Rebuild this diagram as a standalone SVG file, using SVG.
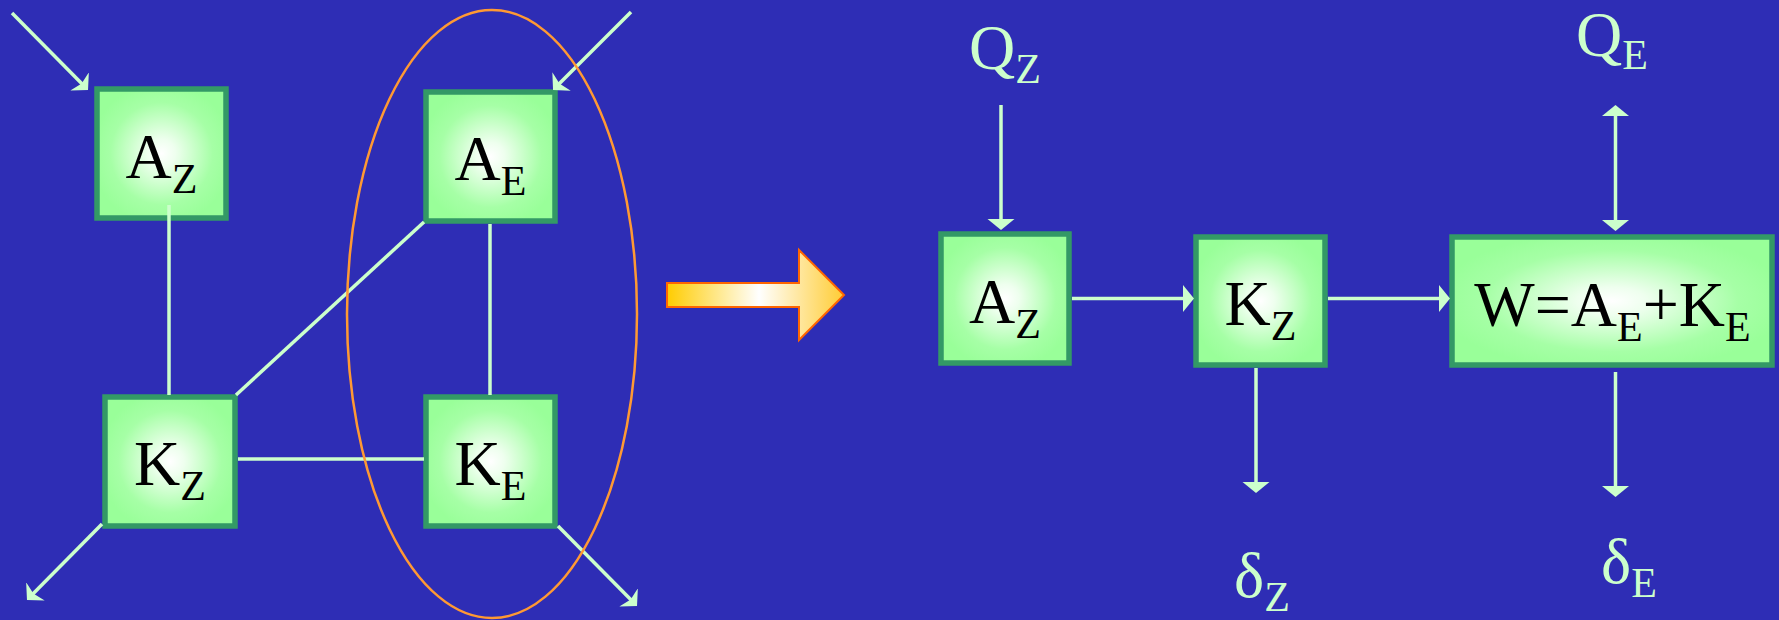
<svg xmlns="http://www.w3.org/2000/svg" width="1779" height="620" viewBox="0 0 1779 620">
<defs>
<style>
.box{stroke:#339966;stroke-width:5.5;fill:url(#boxg)}
.wbox{stroke:#339966;stroke-width:5.5;fill:url(#boxg)}
.lbl{font-family:"Liberation Serif","Times New Roman",serif;font-size:64px;fill:#000}
.ext{font-family:"Liberation Serif","Times New Roman",serif;font-size:64px;fill:#CCFFCC}
.sub{font-size:42px}
.ln{stroke:#CCFFCC;stroke-width:3.5;fill:none}
.st{marker-end:url(#stealth)}
.tri{marker-end:url(#tri)}
</style>
<radialGradient id="boxg" cx="0.5" cy="0.5" r="0.55">
<stop offset="0" stop-color="#FFFFFF"/>
<stop offset="0.2" stop-color="#EEFFEE"/>
<stop offset="0.72" stop-color="#A6FFA6"/>
<stop offset="1" stop-color="#99FF99"/>
</radialGradient>
<linearGradient id="arrg" gradientUnits="userSpaceOnUse" x1="667" y1="0" x2="844" y2="0">
<stop offset="0" stop-color="#FFCC00"/>
<stop offset="0.52" stop-color="#FFFFFF"/>
<stop offset="1" stop-color="#FFCC33"/>
</linearGradient>
<marker id="stealth" markerUnits="userSpaceOnUse" markerWidth="14" markerHeight="28" viewBox="0 0 14 28" refX="4" refY="13" orient="auto">
<path d="M0,0 L12,13 L0,26 L3,13 Z" fill="#CCFFCC"/>
</marker>
<marker id="tri" markerUnits="userSpaceOnUse" markerWidth="12" markerHeight="28" viewBox="0 0 12 28" refX="5" refY="13.5" orient="auto">
<path d="M0,0 L11,13.5 L0,27 Z" fill="#CCFFCC"/>
</marker>
<marker id="triStart" markerUnits="userSpaceOnUse" markerWidth="12" markerHeight="28" viewBox="0 0 12 28" refX="6" refY="13.5" orient="auto">
<path d="M11,0 L0,13.5 L11,27 Z" fill="#CCFFCC"/>
</marker>
</defs>
<rect x="0" y="0" width="1779" height="620" fill="#2E2DB5"/>

<g id="node-az-left">
<rect class="box" x="97" y="89" width="129" height="129"/>
<text class="lbl" x="161.5" y="178" text-anchor="middle">A<tspan class="sub" dy="15">Z</tspan></text>
</g>
<g id="node-ae-left">
<rect class="box" x="426" y="92" width="129" height="129"/>
<text class="lbl" x="490.5" y="180" text-anchor="middle">A<tspan class="sub" dy="15">E</tspan></text>
</g>
<g id="node-kz-left">
<rect class="box" x="105" y="397" width="130" height="129"/>
<text class="lbl" x="170" y="485" text-anchor="middle">K<tspan class="sub" dy="15">Z</tspan></text>
</g>
<g id="node-ke-left">
<rect class="box" x="426" y="397" width="129" height="129"/>
<text class="lbl" x="490.5" y="485" text-anchor="middle">K<tspan class="sub" dy="15">E</tspan></text>
</g>

<g id="transition-arrow">
<polygon points="667,283 799,283 799,250 844,295 799,340 799,307 667,307" fill="url(#arrg)" stroke="#FF6600" stroke-width="2"/>
</g>

<g id="node-az-right">
<rect class="box" x="941" y="234" width="128" height="129"/>
<text class="lbl" x="1005" y="323" text-anchor="middle">A<tspan class="sub" dy="15">Z</tspan></text>
</g>
<g id="node-kz-right">
<rect class="box" x="1196" y="237" width="129" height="128"/>
<text class="lbl" x="1260.5" y="325" text-anchor="middle">K<tspan class="sub" dy="15">Z</tspan></text>
</g>
<g id="node-w">
<rect class="wbox" x="1452" y="237" width="320" height="128"/>
<text class="lbl" x="1612.5" y="326" text-anchor="middle">W=A<tspan class="sub" dy="15">E</tspan><tspan dy="-15">+K</tspan><tspan class="sub" dy="15">E</tspan></text>
</g>

<g id="label-qz"><text class="ext" x="969" y="69">Q<tspan class="sub" dy="14">Z</tspan></text></g>
<g id="label-qe"><text class="ext" x="1576" y="56">Q<tspan class="sub" dy="13">E</tspan></text></g>
<g id="label-dz"><text class="ext" x="1234" y="597">δ<tspan class="sub" dy="14">Z</tspan></text></g>
<g id="label-de"><text class="ext" x="1601" y="583">δ<tspan class="sub" dy="14">E</tspan></text></g>

<g id="connectors">
<line class="ln" x1="169" y1="205" x2="169" y2="395"/>
<line class="ln" x1="236" y1="395" x2="424" y2="222"/>
<line class="ln" x1="490" y1="224" x2="490" y2="395"/>
<line class="ln" x1="238" y1="459" x2="424" y2="459"/>
<line class="ln st" x1="12" y1="13" x2="82.4" y2="84.3"/>
<line class="ln st" x1="631" y1="12" x2="558.7" y2="84.3"/>
<line class="ln st" x1="102" y1="524" x2="32.6" y2="594.3"/>
<line class="ln st" x1="558" y1="526" x2="631.4" y2="600.3"/>
<line class="ln tri" x1="1001" y1="105" x2="1001" y2="224"/>
<line class="ln tri" x1="1072" y1="298.5" x2="1188" y2="298.5"/>
<line class="ln tri" x1="1328" y1="298.5" x2="1444" y2="298.5"/>
<line class="ln tri" x1="1615.5" y1="111" x2="1615.5" y2="225" marker-start="url(#triStart)"/>
<line class="ln tri" x1="1256" y1="368" x2="1256" y2="487"/>
<line class="ln tri" x1="1615.5" y1="372" x2="1615.5" y2="491"/>
</g>

<ellipse id="grouping-ellipse" cx="492" cy="314" rx="145" ry="304" fill="none" stroke="#FF9933" stroke-width="2.5"/>
</svg>
